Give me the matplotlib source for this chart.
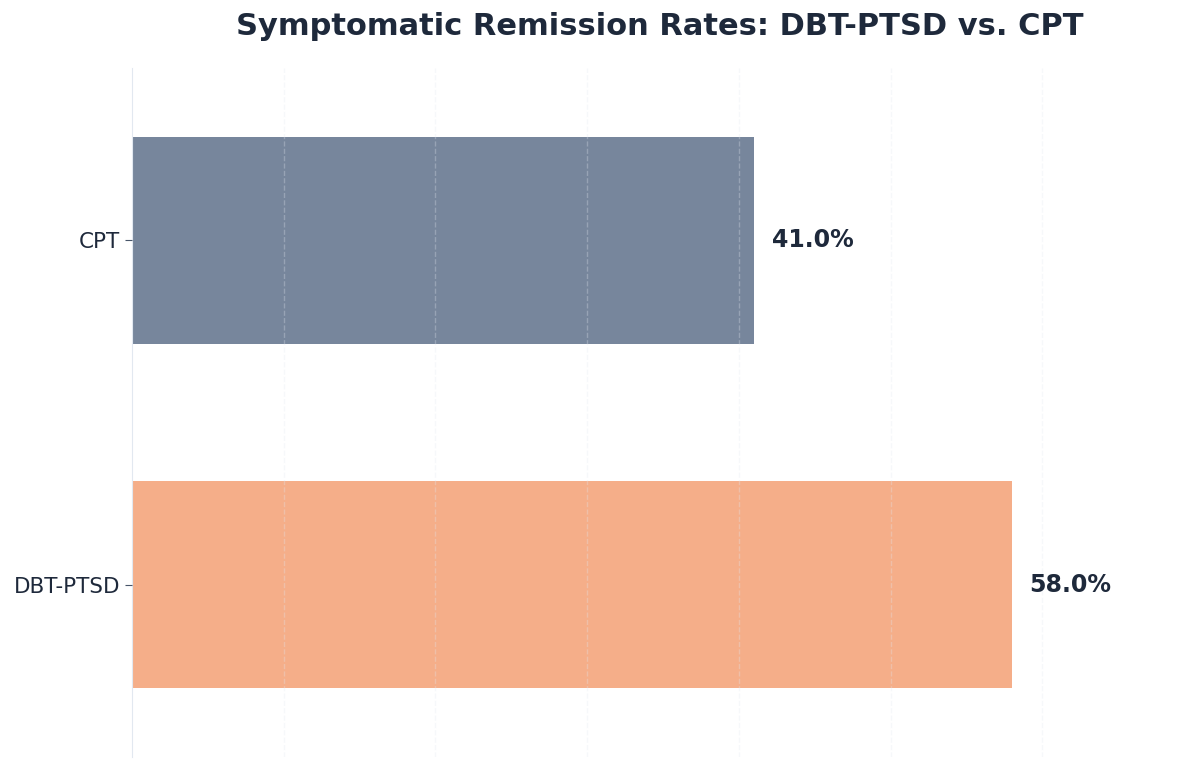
import matplotlib.pyplot as plt

# data
therapies = ['DBT-PTSD', 'CPT']
remission = [58.0, 41.0]
bar_colors = ['#f5ae89', '#77869c']

fig = plt.figure(figsize=(12, 7.69), dpi=100)
ax = fig.add_axes([0.11, 0.0156, 0.88, 0.896])

bars = ax.barh(therapies, remission, height=0.6, color=bar_colors, zorder=1)

# value labels just past the end of each bar
offset = max(remission) * 0.02
for bar, val in zip(bars, remission):
    ax.text(bar.get_width() + offset, bar.get_y() + bar.get_height() / 2,
            f'{val:.1f}%', va='center', ha='left', fontsize=17,
            fontweight='bold', color='#1e293b')

ax.set_xlim(0, max(remission) * 1.2)
ax.set_ylim(-0.5, 1.5)
ax.set_xticks([10, 20, 30, 40, 50, 60])
ax.tick_params(axis='x', length=0, labelbottom=False)
ax.tick_params(axis='y', length=5, color='#475569', labelsize=15.5,
               labelcolor='#1e293b')

# faint dashed grid drawn over the bars
ax.set_axisbelow(False)
ax.grid(axis='x', color='#e2e8f0', linestyle='--', linewidth=1, alpha=0.3, zorder=2)
ax.grid(axis='y', visible=False)

for side in ['top', 'right', 'bottom']:
    ax.spines[side].set_visible(False)
ax.spines['left'].set_color('#e2e8f0')

ax.set_title('Symptomatic Remission Rates: DBT-PTSD vs. CPT', fontsize=22,
             fontweight='bold', color='#1e293b', pad=24)

fig.savefig('out.png', dpi=100)
